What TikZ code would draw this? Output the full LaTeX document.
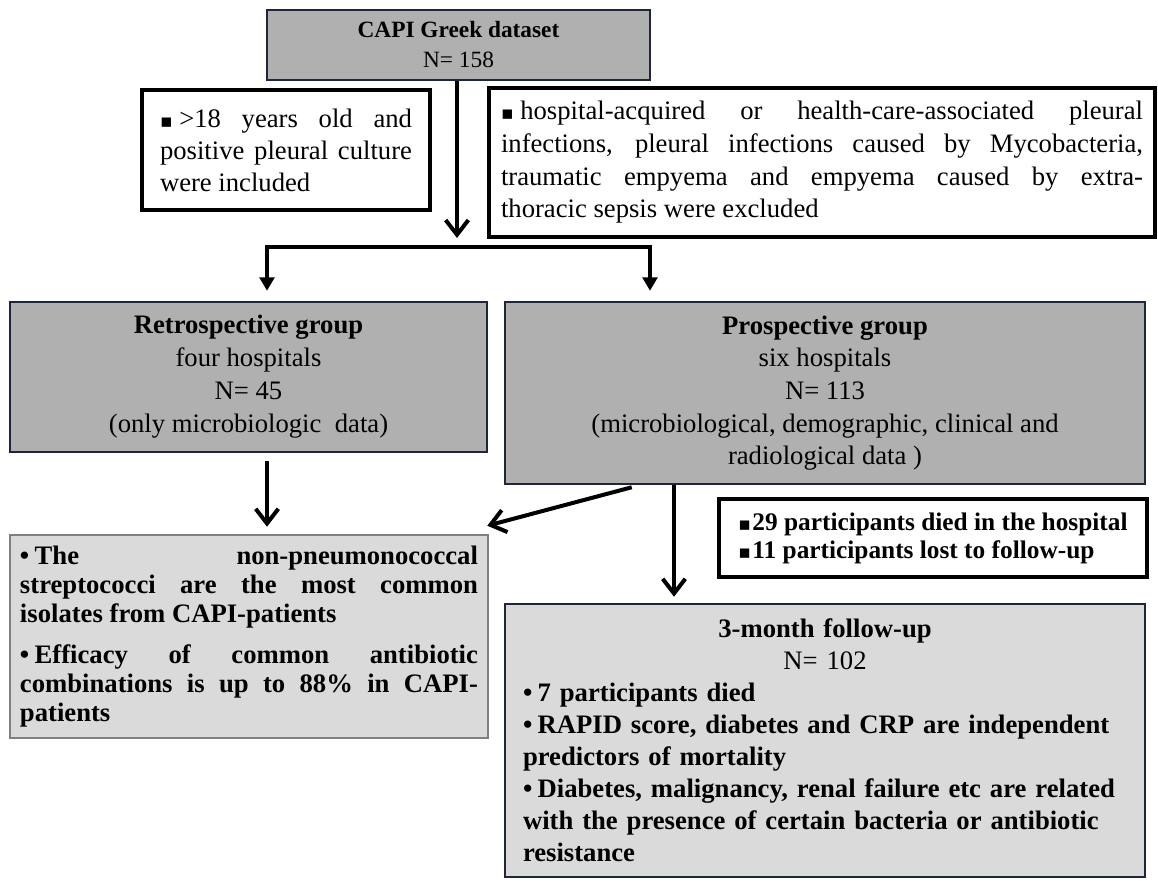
\documentclass[tikz,border=0pt]{standalone}
\usepackage{fontspec}
\setmainfont{Liberation Serif}
\newfontfamily\symfnt{DejaVu Sans}
\usetikzlibrary{arrows.meta,calc}
\definecolor{navy}{RGB}{30,38,60}
\definecolor{midgray}{RGB}{176,176,176}
\definecolor{lightgrayb}{RGB}{218,218,218}
\definecolor{bordergray}{RGB}{128,128,128}
\newcommand{\sqb}{{\symfnt\fontsize{14}{14}\selectfont ▪}}
\tolerance=10000
\hyphenpenalty=10000
\exhyphenpenalty=10000
\begin{document}
\begin{tikzpicture}[x=0.75pt,y=-0.75pt,
  every node/.style={inner sep=0pt},
  sz/.style 2 args={minimum width={#1*0.75pt}, minimum height={#2*0.75pt}},
  graybox/.style={draw=navy, fill=midgray, line width=1.9pt},
  whitebox/.style={draw=black, fill=white, line width=3.6pt},
  lightbox/.style={draw=navy, fill=lightgrayb, line width=1.9pt},
  resbox/.style={draw=bordergray, fill=lightgrayb, line width=1.9pt},
  barb/.style={line width=3pt, -{Straight Barb[length=11pt,width=17pt,line width=3pt]}},
  tri/.style={line width=3pt, -{Triangle[length=10pt,width=11pt]}},
]
\useasboundingbox (0,0) rectangle (1158,881);

% boxes
\node[graybox, sz={383}{70}, align=center,
      font=\fontsize{17.5}{22.5}\selectfont] (top) at (458.5,45)
  {\textbf{CAPI Greek dataset}\\N= 158};

\node[whitebox, sz={288}{120}, text width=189pt, align=justify,
      font=\fontsize{20}{24}\selectfont] (incl) at (286,150)
  {\sqb\hspace{5pt}>18 years old and\linebreak positive pleural culture\linebreak were included};

\node[whitebox, sz={666}{149}, text width=481.5pt, align=justify,
      font=\fontsize{20}{24.5}\selectfont] (excl) at (822,162.5)
  {\sqb\hspace{5pt}hospital-acquired or health-care-associated pleural\linebreak
   infections, pleural infections caused by Mycobacteria,\linebreak
   traumatic empyema and empyema caused by extra-\linebreak
   thoracic sepsis were excluded};

\node[graybox, sz={477}{150}, align=center,
      font=\fontsize{20}{24.75}\selectfont] (retro) at (248.5,377)
  {\textbf{Retrospective group}\\four hospitals\\N= 45\\(only microbiologic~ data)};

\node[graybox, sz={640}{182}, align=center,
      font=\fontsize{20}{24.5}\selectfont] (prosp) at (825,393)
  {\textbf{Prospective group}\\six hospitals\\N= 113\\(microbiological, demographic, clinical and\\radiological data )};

\node[resbox, sz={478}{203}, text width=343.5pt, align=justify,
      font=\bfseries\fontsize{20}{21.75}\selectfont] (leftres) at (249,636.5)
  {•\hspace{4pt}The non-pneumonococcal\linebreak
   streptococci are the most common\linebreak
   isolates from CAPI-patients\par\vspace{9pt}
   •\hspace{4pt}Efficacy of common antibiotic\linebreak
   combinations is up to 88\% in CAPI-\linebreak
   patients};

\node[whitebox, sz={428}{78}, align=left,
      font=\bfseries\fontsize{19}{21}\selectfont] (died) at (933,538)
  {\sqb\hspace{1pt}29 participants died in the hospital\\\sqb\hspace{1pt}11 participants lost to follow-up};

\node[lightbox, sz={640}{273}, text width=453pt, align=left,
      font=\bfseries\fontsize{20}{24}\selectfont] (follow) at (825,740.5)
  {{\centering 3-month follow-up\\ \mdseries N= 102\par}
   •\hspace{4pt}7 participants died\\
   •\hspace{4pt}RAPID score, diabetes and CRP are independent\\
   predictors of mortality\\
   •\hspace{4pt}Diabetes, malignancy, renal failure etc are related\\
   with the presence of certain bacteria or antibiotic\\
   resistance};

% connectors
\coordinate (mainend) at (457,238);
\draw[barb] (top.south -| mainend) -- (mainend);

\coordinate (bl) at (267,247);
\coordinate (br) at (650,247);
\coordinate (ltip) at ($(bl |- retro.north)+(0,-10)$);
\coordinate (rtip) at ($(br |- prosp.north)+(0,-10)$);
\draw[tri] (br) -- (bl) -- (ltip);
\draw[tri] (bl) -- (br) -- (rtip);

\draw[barb] ($(retro.south -| bl)+(0,8)$) -- ($(leftres.north -| bl)+(0,-7)$);

\draw[barb] ($(prosp.south west)+(128,2)$) -- ($(leftres.north east)+(-2,-8)$);

\coordinate (fx) at (674,0);
\draw[barb] (prosp.south -| fx) -- ($(follow.north -| fx)+(0,-6)$);
\end{tikzpicture}
\end{document}
